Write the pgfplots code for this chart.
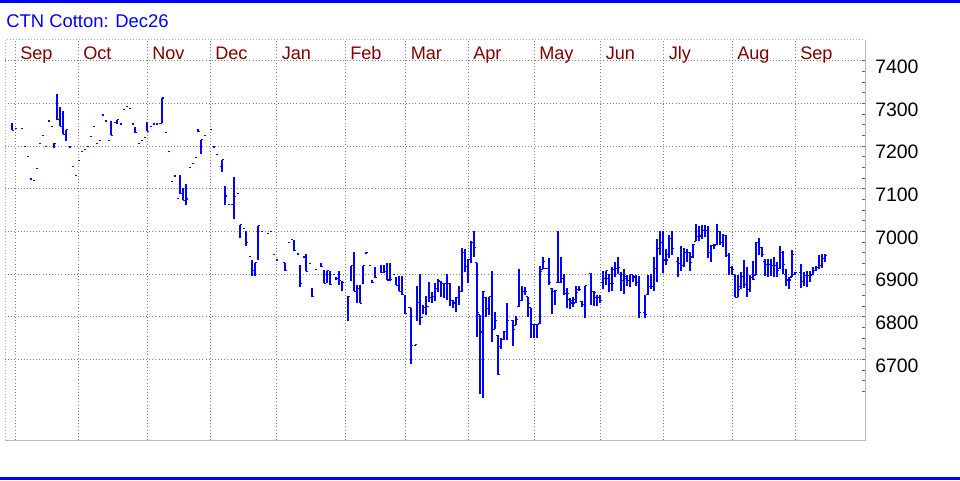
\documentclass[border=0pt]{standalone}
\usepackage{pgfplots}
\pgfplotsset{compat=1.18}
\usepackage{pgfplotstable}
\usepackage{fontspec}
\setmainfont{Liberation Sans}
\definecolor{monthred}{HTML}{800000}
\definecolor{gridgray}{HTML}{808080}
\definecolor{framegray}{HTML}{B8B8B8}
\definecolor{tickgray}{HTML}{606060}
\definecolor{barblue}{HTML}{0000FF}
% x = horizontal position (one step of 3 = one trading day), o h l c = open high low close
\pgfplotstableread{
x o h l c
12 nan 7255 7237 7237
15 nan 7241 7241 7241
21 nan 7241 7241 7241
24 nan 7200 7200 7200
27 nan 7175 7175 7175
30 nan 7123 7123 7123
33 nan 7120 7120 7120
36 nan 7148 7148 7148
39 nan 7207 7207 7207
42 nan 7226 7226 7226
45 nan 7200 7200 7200
48 nan 7259 7259 7259
51 nan 7245 7245 7245
54 nan 7207 7195 7207
57 nan 7323 7262 7262
60 nan 7292 7247 7247
63 nan 7283 7228 7228
66 nan 7238 7211 7238
69 nan 7198 7198 7198
72 nan 7153 7153 7153
75 nan 7132 7132 7132
78 nan 7167 7167 7167
81 nan 7188 7188 7188
84 nan 7193 7193 7193
87 nan 7200 7200 7200
90 nan 7223 7223 7223
93 nan 7247 7247 7247
96 nan 7207 7207 7207
99 nan 7214 7214 7214
102 nan 7273 7273 7273
105 nan 7259 7259 7259
108 nan 7214 7214 7214
111 nan 7259 7225 7225
114 nan 7256 7256 7256
117 nan 7262 7252 7262
120 nan 7252 7252 7252
123 nan 7287 7287 7287
126 nan 7294 7294 7294
129 nan 7289 7289 7289
132 nan 7252 7252 7252
135 nan 7244 7231 7231
138 nan 7207 7207 7207
141 nan 7214 7214 7214
144 nan 7221 7221 7221
147 nan 7257 7235 7235
150 nan 7247 7247 7247
153 nan 7252 7252 7252
156 nan 7252 7252 7252
159 nan 7254 7254 7254
162 7254 7313 7254 7313
165 nan 7233 7233 7233
168 nan 7188 7188 7188
171 nan 7118 7118 7118
174 nan 7130 7130 7130
177 nan 7078 7078 7078
180 nan 7133 7088 7088
183 nan 7102 7073 7073
186 nan 7112 7063 7076
189 nan 7151 7151 7151
192 nan 7160 7160 7160
195 nan 7174 7174 7174
198 nan 7240 7234 7234
201 nan 7215 7181 7215
204 nan 7224 7224 7224
210 nan 7238 7238 7238
213 nan 7198 7198 7198
216 nan 7181 7181 7181
222 7153 7168 7139 7168
225 nan 7107 7061 7083
228 nan 7064 7064 7064
231 nan 7064 7064 7064
234 7064 7128 7030 7081
237 nan 7088 7088 7088
240 nan 7016 6984 7016
243 nan 7006 7006 7006
246 nan 7002 6966 6973
249 nan 6941 6941 6941
252 nan 6934 6896 6909
255 nan 6926 6895 6926
258 nan 7013 6934 7013
261 nan 6999 6999 6999
267 nan 6995 6995 6995
270 nan 6999 6999 6999
273 nan 6945 6945 6945
276 nan 6933 6933 6933
285 6926 6926 6908 6909
288 nan 6975 6975 6975
291 nan 6982 6982 6982
294 nan 6980 6955 6955
297 nan 6947 6947 6947
300 nan 6922 6870 6878
303 nan 6940 6940 6940
306 6940 6947 6906 6906
309 nan 6925 6925 6925
312 nan 6868 6847 6847
315 nan 6910 6910 6910
321 nan 6925 6917 6917
324 nan 6909 6878 6878
327 nan 6908 6880 6908
330 nan 6908 6875 6876
333 nan 6900 6900 6900
336 nan 6892 6885 6890
339 nan 6906 6874 6884
342 nan 6884 6860 6880
348 nan 6848 6791 6848
351 nan 6919 6884 6919
354 nan 6952 6860 6860
357 nan 6874 6831 6865
360 nan 6874 6831 6831
363 nan 6919 6876 6919
366 nan 6951 6947 6951
369 nan 6919 6919 6919
372 nan 6887 6880 6880
375 nan 6916 6891 6891
381 nan 6921 6903 6903
384 nan 6921 6903 6906
387 nan 6925 6886 6886
390 nan 6925 6883 6887
393 nan 6900 6900 6900
396 nan 6894 6874 6874
399 nan 6896 6860 6860
402 nan 6896 6851 6851
405 nan 6850 6807 6807
408 nan 6821 6821 6821
411 6821 6821 6689 6733
414 nan 6732 6732 6732
417 6735 6872 6791 6834
420 6834 6899 6780 6798
423 6798 6828 6807 6821
426 6821 6848 6805 6824
429 6824 6881 6834 6846
432 6846 6858 6833 6847
435 6847 6878 6836 6865
438 6865 6888 6858 6885
441 6883 6883 6846 6878
444 6878 6878 6844 6878
447 6878 6899 6838 6878
450 6878 6879 6824 6838
453 6838 6839 6820 6832
456 6832 6845 6811 6845
459 6845 6872 6827 6858
462 6860 6961 6857 6950
465 6950 6958 6904 6917
468 6917 6935 6879 6935
471 6935 6977 6925 6975
474 6975 7001 6940 6963
477 6926 6926 6752 6810
480 6805 6805 6619 6764
483 6764 6860 6609 6860
486 6845 6845 6800 6819
489 6819 6847 6803 6847
492 6847 6907 6741 6771
495 6771 6810 6771 6792
498 6756 6756 6663 6664
501 6730 6749 6725 6746
504 6746 6766 6745 6766
507 6766 6831 6746 6790
513 6790 6793 6731 6771
516 6780 6801 6780 6793
519 6823 6911 6823 6839
522 6839 6871 6837 6860
525 6860 6870 6850 6860
528 6847 6847 6800 6831
531 6821 6821 6750 6782
534 6782 6782 6750 6782
537 6782 6782 6750 6782
540 6784 6919 6783 6906
543 6911 6939 6911 6930
546 6912 6914 6911 6912
549 6912 6937 6874 6880
552 6867 6867 6807 6858
555 6858 6862 6827 6862
558 6880 7001 6878 6880
561 6880 6940 6880 6890
564 6890 6899 6852 6854
567 6854 6867 6820 6854
570 6840 6843 6818 6837
573 6832 6846 6822 6832
576 6840 6871 6832 6856
579 6863 6871 6861 6863
582 6835 6837 6822 6828
585 6828 6873 6798 6873
591 6902 6902 6828 6860
594 6860 6861 6826 6856
597 6846 6850 6824 6846
600 6846 6850 6832 6838
603 6880 6908 6865 6889
606 6889 6908 6875 6908
609 6890 6900 6859 6877
612 6877 6916 6861 6877
615 6910 6928 6892 6912
618 6912 6939 6900 6916
621 6900 6904 6861 6885
624 6885 6912 6853 6894
627 6890 6897 6873 6885
630 6885 6898 6869 6898
633 6898 6898 6881 6893
636 6893 6898 6871 6881
639 6881 6896 6798 6810
645 6810 6852 6798 6806
648 6851 6898 6851 6871
651 6871 6900 6865 6871
654 6871 6940 6861 6914
657 6914 6983 6881 6959
660 6959 7000 6944 6975
663 6975 7000 6902 6933
666 6933 6959 6922 6933
669 6945 6991 6937 6984
672 6984 7000 6945 6959
678 6930 6941 6894 6924
681 6924 6965 6908 6920
684 6920 6961 6916 6950
687 6950 6959 6929 6950
690 6950 6951 6908 6928
693 6940 6971 6937 6969
696 6977 7018 6977 6987
699 6987 7012 6977 6987
702 6990 7014 6983 7002
705 7002 7016 6987 7002
708 7002 7012 6937 6950
711 6950 6969 6928 6967
714 6967 6970 6958 6968
717 6969 7018 6969 7000
720 7000 7000 6969 6973
723 6973 6995 6963 6991
726 6991 6991 6940 6944
729 6944 6950 6898 6916
732 6916 6920 6898 6911
735 6898 6898 6846 6846
738 6846 6897 6846 6864
741 6870 6904 6865 6895
744 6895 6932 6867 6875
747 6875 6916 6846 6864
750 6864 6897 6857 6892
753 6892 6930 6885 6887
756 6897 6975 6897 6975
759 6975 6985 6945 6963
762 6963 6963 6940 6945
765 6930 6936 6896 6922
768 6922 6936 6893 6922
771 6922 6936 6896 6920
774 6920 6940 6893 6920
777 6920 6928 6893 6908
780 6912 6965 6912 6951
783 6951 6955 6900 6922
786 6900 6912 6873 6886
789 6886 6893 6865 6886
792 6893 6957 6893 6945
795 6900 6904 6898 6903
801 6903 6924 6867 6882
804 6882 6904 6873 6896
807 6896 6908 6869 6896
810 6896 6908 6881 6896
813 6900 6916 6898 6908
816 6908 6920 6908 6916
819 6916 6944 6912 6920
822 6920 6947 6915 6937
825 6937 6947 6928 6944
}\ohlc
\begin{document}
\begin{tikzpicture}
% page: 960 x 480 px at 0.75pt per px
\path (0pt,0pt) rectangle (720pt,360pt);
\fill[barblue] (0pt,358.1pt) rectangle (720pt,360pt);
\fill[barblue] (0pt,0pt) rectangle (720pt,1.9pt);
\node[anchor=base west, inner sep=0pt, text=barblue,
      font=\fontsize{13.8pt}{15pt}\selectfont] at (4.6pt,339.5pt) {CTN Cotton: Dec26};
\begin{axis}[
  name=ax,
  at={(3.75pt,30pt)}, anchor=south west,
  scale only axis, width=645pt, height=300pt,
  xmin=5, xmax=865, ymin=6510.7, ymax=7449,
  axis line style={draw=none},
  xtick={15.3,78.3,147.3,210.3,276.7,345.3,405.7,468.3,534.3,600.7,663.7,732.3,795.3},
  xticklabels={},
  xtick style={draw=none},
  ytick={6700,6800,...,7400},
  minor ytick={6625,6650,...,7400},
  ytick pos=right, yticklabel pos=right,
  tick align=inside,
  major tick length=1.9pt, minor tick length=1.9pt,
  ytick style={draw=tickgray, line width=0.6pt},
  minor tick style={draw=tickgray, line width=0.6pt},
  grid=major,
  major grid style={draw=gridgray, line width=0.75pt, dash pattern=on 0.75pt off 1.6pt},
  /pgf/number format/assume math mode=true,
  /pgf/number format/1000 sep={},
  yticklabel style={anchor=west, inner sep=0pt, xshift=7.5pt, yshift=-4.5pt,
                    font=\fontsize{14.6pt}{16pt}\selectfont, text=black},
  clip=false,
]
% high-low lines
\addplot[draw=none, mark=none, forget plot,
  error bars/.cd, y dir=plus, y explicit, error mark=none,
  error bar style={draw=barblue, solid, line width=0.8pt}]
  table[x=x, y=l, y error expr=\thisrow{h}-\thisrow{l}] {\ohlc};
% open ticks
\addplot[draw=none, mark=none, forget plot,
  error bars/.cd, x dir=minus, x fixed=2.2, error mark=none,
  error bar style={draw=barblue, solid, line width=0.8pt}]
  table[x=x, y=o] {\ohlc};
% close ticks
\addplot[draw=none, mark=none, forget plot,
  error bars/.cd, x dir=plus, x fixed=2.3, error mark=none,
  error bar style={draw=barblue, solid, line width=0.8pt}]
  table[x=x, y=c] {\ohlc};
% month labels
\begin{scope}[every node/.style={anchor=base west, inner sep=0pt, text=monthred,
      font=\fontsize{13.6pt}{15pt}\selectfont}]
\node at (axis cs:20,7404.4) {Sep};
\node at (axis cs:83,7404.4) {Oct};
\node at (axis cs:152,7404.4) {Nov};
\node at (axis cs:215,7404.4) {Dec};
\node at (axis cs:281.5,7404.4) {Jan};
\node at (axis cs:350,7404.4) {Feb};
\node at (axis cs:410.5,7404.4) {Mar};
\node at (axis cs:473,7404.4) {Apr};
\node at (axis cs:539,7404.4) {May};
\node at (axis cs:605.5,7404.4) {Jun};
\node at (axis cs:668.5,7404.4) {Jly};
\node at (axis cs:737,7404.4) {Aug};
\node at (axis cs:800,7404.4) {Sep};
\end{scope}
\end{axis}
% frame: dotted top and left, solid light grey right and bottom
\draw[gridgray!70, line width=0.75pt, dash pattern=on 0.75pt off 1.5pt]
  (ax.south west) -- (ax.north west) -- (ax.north east);
\draw[framegray, line width=0.75pt] (ax.south west) -- (ax.south east) -- (ax.north east);
\end{tikzpicture}
\end{document}
